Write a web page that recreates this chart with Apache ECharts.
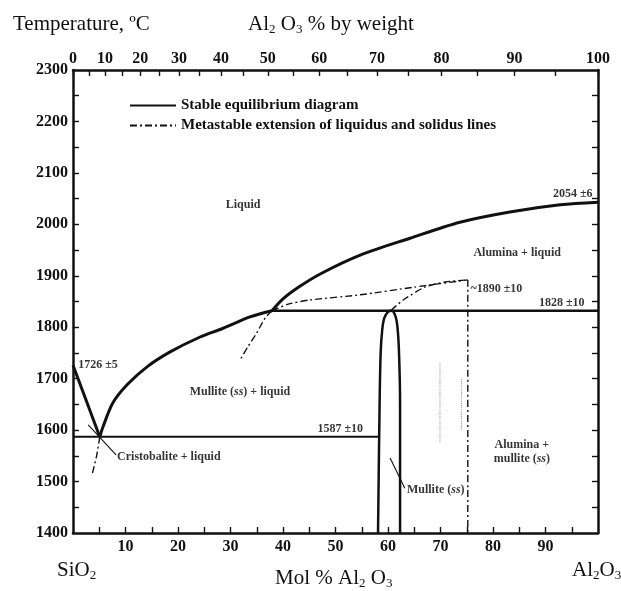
<!DOCTYPE html>
<html>
<head>
<meta charset="utf-8">
<script src="https://cdn.jsdelivr.net/npm/echarts@6/dist/echarts.min.js"></script>
<style>
  html, body { margin: 0; padding: 0; background: #fff; }
  #chart { width: 621px; height: 591px; }
</style>
</head>
<body>
<div id="chart"></div>
<script>
// x = mol % Al2O3, y = temperature (C)
const tempLabels = [1400, 1500, 1600, 1700, 1800, 1900, 2000, 2100, 2200, 2300];
const tempTicks = [1450, 1500, 1550, 1600, 1650, 1700, 1750, 1800, 1850, 1900, 1950, 2000, 2050, 2100, 2150, 2200, 2250];
const molLabels = [10, 20, 30, 40, 50, 60, 70, 80, 90];
const molTicks = [5, 10, 15, 20, 25, 30, 35, 40, 45, 50, 55, 60, 65, 70, 75, 80, 85, 90, 95];
// top axis: weight % labels and where they sit on the mol % scale
const wtLabels = ['0', '10', '20', '30', '40', '50', '60', '70', '80', '90', '100'];
const wtLabelMol = [0, 6.1, 12.8, 20.2, 28.2, 37.1, 46.9, 57.9, 70.2, 84.1, 100];
const wtHalfMol = [3.0, 9.4, 16.4, 24.1, 32.5, 41.9, 52.2, 63.9, 77.0, 91.8];

// stable equilibrium lines
const cristobaliteLiquidus = [[0, 1726], [5.1, 1587]];
const mulliteLiquidus = [[5.1, 1587], [5.7, 1606], [7.6, 1653], [10.3, 1688], [14.1, 1723], [18.5, 1752],
  [24.2, 1781], [28.6, 1798], [33.7, 1820], [37.9, 1832]];
const aluminaLiquidus = [[37.9, 1832], [40.0, 1855], [43.0, 1878], [47.0, 1903], [54.7, 1940], [64.2, 1973],
  [73.7, 2004], [83.2, 2024], [92.8, 2038], [100, 2043]];
const eutecticLine = [[0, 1587], [58.1, 1587]];
const peritecticLine = [[37.9, 1832], [100, 1832]];
const mulliteField = [[58.1, 1400], [58.4, 1650], [58.6, 1750], [58.9, 1795], [59.3, 1818], [60.0, 1830],
  [60.7, 1832], [61.4, 1822], [61.8, 1800], [62.1, 1750], [62.3, 1650], [62.3, 1400]];

// metastable extensions
const mulliteLiqBelow = [[5.1, 1587], [4.5, 1550], [3.6, 1512]];
const aluminaLiqBelow = [[37.9, 1832], [36.6, 1818], [35.0, 1789], [33.3, 1762], [31.8, 1736]];
const mulliteLiqAbove = [[37.9, 1832], [41.0, 1845], [45.1, 1853], [54.7, 1863], [65.0, 1878], [75.2, 1892]];
const mulliteSolidusMeta = [[60.6, 1833], [62.9, 1853], [67.0, 1878], [70.9, 1888], [75.2, 1892]];
const metaVertical = [[75.2, 1892], [75.2, 1400]];

// leader lines and faint scan marks
const cristobaliteLeader = [[2.9, 1610], [8.2, 1552]];
const mulliteLeader = [[60.4, 1546], [63.2, 1487]];
const scanMarkA = [[69.9, 1730], [69.9, 1575]];
const scanMarkB = [[74.0, 1700], [74.0, 1600]];

const regionLabels = [
  ['Liquid', 32.4, 2038, 'center'],
  ['2054 ±6', 95.2, 2059, 'center'],
  ['Alumina + liquid', 84.6, 1944, 'center'],
  ['~1890 ±10', 75.7, 1874, 'left'],
  ['1828 ±10', 93.1, 1847, 'center'],
  ['1726 ±5', 1.0, 1726, 'left'],
  ['Mullite ({i|ss}) + liquid', 31.8, 1674, 'center'],
  ['1587 ±10', 50.9, 1602, 'center'],
  ['Cristobalite + liquid', 8.4, 1548, 'left'],
  ['Mullite ({i|ss})', 63.6, 1484, 'left'],
  ['Alumina +\nmullite ({i|ss})', 85.5, 1557, 'center']
];

const STABLE = 'Stable equilibrium diagram';
const META = 'Metastable extension of liquidus and solidus lines';
const serif = 'Liberation Serif';
const ink = '#111';

function stable (data, width) {
  return { name: STABLE, type: 'line', data, symbol: 'none', silent: true,
    itemStyle: { color: ink }, lineStyle: { color: ink, width: width || 3 } };
}
function meta (data) {
  return { name: META, type: 'line', data, symbol: 'none', silent: true, smooth: 0.2,
    itemStyle: { color: ink }, lineStyle: { color: ink, width: 1.4, type: [7, 3, 2, 3] } };
}
function thin (data, color, type) {
  return { type: 'line', data, symbol: 'none', silent: true,
    itemStyle: { color }, lineStyle: { color, width: 1.1, type: type || 'solid' } };
}

const axisLine = { show: true, onZero: false, lineStyle: { color: ink, width: 2.5 } };
const tickStyle = { color: ink, width: 1.4 };
const numFont = { fontFamily: serif, fontSize: 16, fontWeight: 'bold', color: ink };
const sub = { fontFamily: serif, fontSize: 13, color: ink, padding: [10, 0, 0, 0] };
const titleFont = { fontFamily: serif, fontSize: 21, fontWeight: 'normal', color: ink, rich: { s: sub } };

const option = {
  animation: false,
  title: [
    { text: 'Temperature, ºC', left: 8, top: 9, textStyle: titleFont },
    { text: 'Al{s|2} O{s|3} % by weight', left: 243, top: 8, textStyle: titleFont },
    { text: 'Mol % Al{s|2} O{s|3}', left: 270, top: 562, textStyle: titleFont },
    { text: 'SiO{s|2}', left: 52, top: 554, textStyle: titleFont },
    { text: 'Al{s|2}O{s|3}', left: 567, top: 554, textStyle: titleFont }
  ],
  legend: {
    orient: 'vertical', left: 124, top: 93, itemWidth: 46, itemHeight: 14, itemGap: 5,
    data: [STABLE, META], selectedMode: false,
    itemStyle: { opacity: 0 },
    textStyle: { fontFamily: serif, fontSize: 15, fontWeight: 'bold', color: ink }
  },
  grid: { left: 73, right: 23, top: 70, bottom: 58, containLabel: false, outerBoundsMode: 'none' },
  xAxis: [
    { type: 'value', position: 'bottom', min: 0, max: 100, axisLine, splitLine: { show: false },
      axisTick: { inside: true, length: 6, lineStyle: tickStyle, customValues: molTicks },
      axisLabel: Object.assign({ margin: 6, customValues: molLabels, formatter: v => String(v) }, numFont) },
    { type: 'value', position: 'top', min: 0, max: 100, axisLine, splitLine: { show: false },
      axisTick: { inside: true, length: 6, lineStyle: tickStyle, customValues: wtLabelMol.concat(wtHalfMol) },
      axisLabel: Object.assign({ margin: 3, customValues: wtLabelMol,
        formatter: v => { const i = wtLabelMol.indexOf(v); return i < 0 ? '' : wtLabels[i]; } }, numFont) }
  ],
  yAxis: [
    { type: 'value', position: 'left', min: 1400, max: 2300, axisLine, splitLine: { show: false },
      axisTick: { inside: true, length: 6, lineStyle: tickStyle, customValues: tempTicks },
      axisLabel: Object.assign({ margin: 5, customValues: tempLabels, formatter: v => String(v) }, numFont) },
    { type: 'value', position: 'right', min: 1400, max: 2300, axisLine, splitLine: { show: false },
      axisTick: { inside: true, length: 6, lineStyle: tickStyle, customValues: tempTicks },
      axisLabel: { show: false } }
  ],
  series: [
    stable(cristobaliteLiquidus),
    Object.assign(stable(mulliteLiquidus), { smooth: 0.3 }),
    Object.assign(stable(aluminaLiquidus), { smooth: 0.3 }),
    stable(eutecticLine, 2),
    stable(peritecticLine, 2.5),
    Object.assign(stable(mulliteField, 2.5), { smooth: 0.3 }),
    meta(mulliteLiqBelow),
    meta(aluminaLiqBelow),
    meta(mulliteLiqAbove),
    meta(mulliteSolidusMeta),
    meta(metaVertical),
    thin(cristobaliteLeader, ink),
    thin(mulliteLeader, ink),
    thin(scanMarkA, '#999', 'dotted'),
    thin(scanMarkB, '#999', 'dotted'),
    {
      type: 'scatter', symbolSize: 0, silent: true,
      data: regionLabels.map(r => ({ value: [r[1], r[2]], name: r[0], label: { align: r[3] } })),
      label: {
        show: true, position: 'inside', formatter: p => p.name,
        fontFamily: serif, fontSize: 12, fontWeight: 'bold', color: '#000', lineHeight: 14,
        rich: { i: { fontFamily: serif, fontSize: 12, fontWeight: 'bold', fontStyle: 'italic', color: '#000' } }
      }
    }
  ]
};

const chart = echarts.init(document.getElementById('chart'));
chart.setOption(option);
</script>
</body>
</html>
